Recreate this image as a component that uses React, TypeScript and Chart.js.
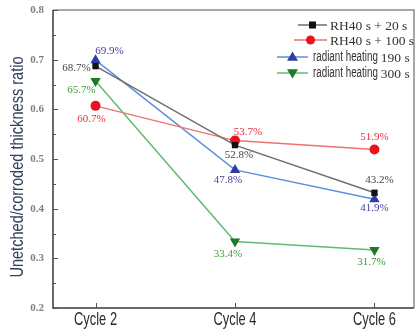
import React, { useEffect, useRef } from 'react';
import { Chart, registerables } from 'chart.js';

Chart.register(...registerables);

const categories = ['Cycle 2', 'Cycle 4', 'Cycle 6'];
const cycleNumbers = [2, 4, 6];
const seriesNames = ['RH40 s + 20 s', 'RH40 s + 100 s', 'radiant heating 190 s', 'radiant heating 300 s'];
const rh20 = [0.687, 0.528, 0.432];
const rh100 = [0.607, 0.537, 0.519];
const rad190 = [0.699, 0.478, 0.419];
const rad300 = [0.657, 0.334, 0.317];
const yTickValues = [0.2, 0.3, 0.4, 0.5, 0.6, 0.7, 0.8];
const yMin = 0.2;
const yMax = 0.8;
const yStep = 0.1;
const yTitle = 'Unetched/corroded thickness ratio';

const seriesValues = [rh20, rh100, rad190, rad300];

const styles = [
  { line: '#6e6e6e', point: '#111111', pointStyle: 'rect', rotation: 0, radius: 4.5, label: '#444444',
    offsets: [[-19, 2], [4, 10], [5, -13]] },
  { line: '#f07272', point: '#e8141c', pointStyle: 'circle', rotation: 0, radius: 5, label: '#e8303a',
    offsets: [[-4, 13], [13, -9], [0, -12]] },
  { line: '#5b8ee0', point: '#2f3ca8', pointStyle: 'triangle', rotation: 0, radius: 6, label: '#4b3aa0',
    offsets: [[14, -9], [-7, 10], [0, 9]] },
  { line: '#62bb72', point: '#1f7a25', pointStyle: 'triangle', rotation: 180, radius: 6, label: '#3c9a3c',
    offsets: [[-14, 9], [-7, 13], [-3, 12]] },
];

const SANS = "'Liberation Sans', Arial, sans-serif";
const SERIF = "'Liberation Serif', 'Times New Roman', serif";

function narrowText(ctx: CanvasRenderingContext2D, text: string, x: number, y: number, align: CanvasTextAlign, sx: number) {
  ctx.save();
  ctx.translate(x, y);
  ctx.scale(sx, 1);
  ctx.textAlign = align;
  ctx.fillText(text, 0, 0);
  ctx.restore();
}

const decorPlugin = {
  id: 'decor',
  afterDatasetsDraw(chart: any) {
    const ctx = chart.ctx as CanvasRenderingContext2D;
    const xs = chart.scales.x;
    const ys = chart.scales.y;
    ctx.save();
    ctx.font = `11px ${SERIF}`;
    ctx.textAlign = 'center';
    ctx.textBaseline = 'middle';
    seriesValues.forEach((vals, si) => {
      ctx.fillStyle = styles[si].label;
      vals.forEach((v, i) => {
        const px = xs.getPixelForValue(cycleNumbers[i]);
        const py = ys.getPixelForValue(v);
        const [dx, dy] = styles[si].offsets[i];
        ctx.fillText((v * 100).toFixed(1) + '%', px + dx, py + dy);
      });
    });
    ctx.restore();
  },
  afterDraw(chart: any) {
    const ctx = chart.ctx as CanvasRenderingContext2D;
    const { left, right, top, bottom } = chart.chartArea;
    const xs = chart.scales.x;
    const ys = chart.scales.y;
    ctx.save();
    ctx.strokeStyle = '#8a8a8a';
    ctx.lineWidth = 1.5;
    ctx.beginPath();
    ctx.moveTo(left, top);
    ctx.lineTo(right, top);
    ctx.lineTo(right, bottom);
    ctx.stroke();
    ctx.strokeStyle = '#3a3a3a';
    ctx.beginPath();
    ctx.moveTo(left, top);
    ctx.lineTo(left, bottom);
    ctx.lineTo(right, bottom);
    ctx.stroke();
    ctx.lineWidth = 1;
    ctx.strokeStyle = '#555555';
    ctx.beginPath();
    for (let k = 0; k <= Math.round((yMax - yMin) / (yStep / 2)); k++) {
      const v = yMin + k * (yStep / 2);
      const py = Math.round(ys.getPixelForValue(v)) + 0.5;
      const len = k % 2 === 0 ? 5 : 3;
      ctx.moveTo(left, py);
      ctx.lineTo(left + len, py);
    }
    cycleNumbers.forEach((c) => {
      const px = Math.round(xs.getPixelForValue(c)) + 0.5;
      ctx.moveTo(px, bottom);
      ctx.lineTo(px, bottom - 5);
    });
    ctx.stroke();

    // y tick labels
    ctx.fillStyle = '#808080';
    ctx.font = `bold 11px ${SERIF}`;
    ctx.textAlign = 'right';
    ctx.textBaseline = 'middle';
    yTickValues.forEach((v) => {
      ctx.fillText(v.toFixed(1), left - 9, ys.getPixelForValue(v));
    });

    // x category labels (narrow)
    ctx.fillStyle = '#2a2a2a';
    ctx.font = `19px ${SANS}`;
    ctx.textBaseline = 'middle';
    cycleNumbers.forEach((c, i) => {
      narrowText(ctx, categories[i], xs.getPixelForValue(c), bottom + 12, 'center', 0.68);
    });

    // y title
    ctx.save();
    ctx.translate(18, 167);
    ctx.rotate(-Math.PI / 2);
    ctx.font = `18px ${SANS}`;
    ctx.fillStyle = '#34405e';
    ctx.textBaseline = 'middle';
    narrowText(ctx, yTitle, 0, 0, 'center', 0.81);
    ctx.restore();

    // legend
    const rows = [
      { y: 25, lineFrom: 298, lineTo: 327, textX: 330 },
      { y: 40, lineFrom: 294, lineTo: 327, textX: 330 },
      { y: 57, lineFrom: 277, lineTo: 308, textX: 313 },
      { y: 73, lineFrom: 277, lineTo: 308, textX: 313 },
    ];
    rows.forEach((r, si) => {
      const st = styles[si];
      ctx.strokeStyle = st.line;
      ctx.lineWidth = 1.5;
      ctx.beginPath();
      ctx.moveTo(r.lineFrom, r.y);
      ctx.lineTo(r.lineTo, r.y);
      ctx.stroke();
      const mx = (r.lineFrom + r.lineTo) / 2;
      ctx.fillStyle = st.point;
      ctx.beginPath();
      if (st.pointStyle === 'rect') {
        ctx.fillRect(mx - 3.5, r.y - 3.5, 7, 7);
      } else if (st.pointStyle === 'circle') {
        ctx.arc(mx, r.y, 4.5, 0, Math.PI * 2);
        ctx.fill();
      } else {
        const s = 5.5;
        const dir = st.rotation === 180 ? -1 : 1;
        ctx.moveTo(mx, r.y - dir * s);
        ctx.lineTo(mx - s, r.y + dir * s * 0.7);
        ctx.lineTo(mx + s, r.y + dir * s * 0.7);
        ctx.closePath();
        ctx.fill();
      }
      ctx.fillStyle = '#333333';
      ctx.textBaseline = 'middle';
      const name = seriesNames[si];
      if (name.startsWith('radiant heating')) {
        const head = 'radiant heating';
        const tail = name.slice(head.length + 1);
        ctx.font = `14px ${SANS}`;
        const sx = 0.7;
        narrowText(ctx, head, r.textX, r.y, 'left', sx);
        const w = ctx.measureText(head).width * sx;
        ctx.font = `13.5px ${SERIF}`;
        ctx.textAlign = 'left';
        ctx.fillText(tail, r.textX + w + 3, r.y + 1);
      } else {
        ctx.font = `13.5px ${SERIF}`;
        ctx.textAlign = 'left';
        ctx.fillText(name, r.textX, r.y + 1);
      }
    });
    ctx.restore();
  },
};

export default function App() {
  const ref = useRef<HTMLCanvasElement | null>(null);
  useEffect(() => {
    if (!ref.current) return;
    const datasets = seriesValues.map((vals, si) => ({
      label: seriesNames[si],
      data: vals.map((v, i) => ({ x: cycleNumbers[i], y: v })),
      borderColor: styles[si].line,
      borderWidth: 1.5,
      backgroundColor: styles[si].point,
      pointBackgroundColor: styles[si].point,
      pointBorderColor: styles[si].point,
      pointStyle: styles[si].pointStyle,
      rotation: styles[si].rotation,
      pointRadius: styles[si].radius,
      pointBorderWidth: 0,
      tension: 0,
    }));
    const chart = new Chart(ref.current, {
      type: 'line',
      data: { datasets },
      plugins: [decorPlugin],
      options: {
        animation: false,
        responsive: false,
        events: [],
        layout: { padding: { top: 10, right: 2, left: 0, bottom: 0 } },
        plugins: { legend: { display: false }, tooltip: { enabled: false }, title: { display: false } },
        scales: {
          x: {
            type: 'linear',
            min: 1.39,
            max: 6.567,
            grid: { display: false, drawTicks: false },
            border: { display: false },
            afterBuildTicks: (axis: any) => {
              axis.ticks = cycleNumbers.map((v) => ({ value: v }));
            },
            afterFit: (scale: any) => {
              scale.height = 22;
            },
            ticks: { display: false, padding: 0 },
          },
          y: {
            type: 'linear',
            min: yMin,
            max: yMax,
            grid: { display: false, drawTicks: false },
            border: { display: false },
            afterFit: (scale: any) => {
              scale.width = 53;
            },
            ticks: { display: false, padding: 0, stepSize: yStep },
          },
        },
      },
    });
    return () => chart.destroy();
  }, []);
  return (
    <div style={{ position: 'absolute', left: 0, top: 0, width: 420, height: 330 }}>
      <canvas ref={ref} width={420} height={330} style={{ display: 'block', width: 420, height: 330 }} />
    </div>
  );
}
